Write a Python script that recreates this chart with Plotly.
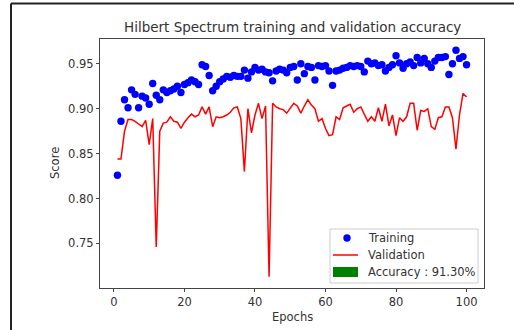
import plotly.graph_objects as go

epochs = list(range(1, 101))
train_acc = [0.826, 0.886, 0.910, 0.901, 0.921, 0.916, 0.901, 0.914, 0.912, 0.905,
             0.928, 0.915, 0.910, 0.921, 0.918, 0.920, 0.922, 0.925, 0.918, 0.927,
             0.929, 0.932, 0.930, 0.927, 0.949, 0.947, 0.937, 0.920, 0.925, 0.930,
             0.933, 0.936, 0.935, 0.937, 0.936, 0.936, 0.943, 0.934, 0.941, 0.946,
             0.943, 0.944, 0.941, 0.940, 0.931, 0.942, 0.944, 0.943, 0.940, 0.946,
             0.947, 0.932, 0.950, 0.939, 0.947, 0.946, 0.932, 0.948, 0.947, 0.948,
             0.942, 0.926, 0.942, 0.943, 0.945, 0.946, 0.948, 0.947, 0.948, 0.947,
             0.941, 0.953, 0.950, 0.951, 0.948, 0.949, 0.942, 0.946, 0.949, 0.959,
             0.951, 0.945, 0.950, 0.952, 0.948, 0.957, 0.951, 0.956, 0.950, 0.946,
             0.953, 0.957, 0.957, 0.958, 0.938, 0.950, 0.965, 0.956, 0.958, 0.949]
val_acc = [0.844, 0.844, 0.875, 0.888, 0.888, 0.886, 0.883, 0.880, 0.887, 0.860,
           0.889, 0.746, 0.875, 0.884, 0.885, 0.891, 0.886, 0.885, 0.878, 0.885,
           0.890, 0.894, 0.891, 0.893, 0.902, 0.894, 0.902, 0.880, 0.891, 0.890,
           0.891, 0.893, 0.896, 0.901, 0.902, 0.889, 0.830, 0.900, 0.873, 0.893,
           0.906, 0.889, 0.903, 0.713, 0.906, 0.902, 0.900, 0.899, 0.895, 0.901,
           0.906, 0.903, 0.895, 0.903, 0.910, 0.904, 0.900, 0.886, 0.889, 0.878,
           0.870, 0.871, 0.891, 0.888, 0.901, 0.903, 0.905, 0.896, 0.900, 0.902,
           0.893, 0.886, 0.891, 0.886, 0.901, 0.886, 0.905, 0.881, 0.893, 0.870,
           0.890, 0.886, 0.891, 0.906, 0.906, 0.876, 0.898, 0.897, 0.900, 0.880,
           0.877, 0.890, 0.891, 0.902, 0.902, 0.890, 0.855, 0.893, 0.917, 0.913]
x_ticks = [0, 20, 40, 60, 80, 100]
y_ticks = [0.75, 0.80, 0.85, 0.90, 0.95]
y_tick_text = ["0.75", "0.80", "0.85", "0.90", "0.95"]
title = "Hilbert Spectrum training and validation accuracy"
legend_labels = ["Training", "Validation", "Accuracy : 91.30%"]

FONT = "DejaVu Sans"
TXT = "#333333"
W, H = 514, 330
L, R, T, B = 100, 30, 39, 42
PW, PH = W - L - R, H - T - B


def px(x):
    return (x - L) / PW


def py(y):
    return (H - B - y) / PH


fig = go.Figure()
fig.add_trace(go.Scatter(x=epochs, y=val_acc, mode="lines",
                         line=dict(color="#ff0000", width=1.5), showlegend=False))
fig.add_trace(go.Scatter(x=epochs, y=train_acc, mode="markers",
                         marker=dict(color="#0000ff", size=7.4, line=dict(width=0)),
                         showlegend=False))

shapes = []
annotations = []
# figure border (left and top)
shapes.append(dict(type="line", xref="paper", yref="paper", x0=px(11), x1=px(514),
                   y0=py(3.5), y1=py(3.5), line=dict(color="#222222", width=2)))
shapes.append(dict(type="line", xref="paper", yref="paper", x0=px(11), x1=px(11),
                   y0=py(3.5), y1=py(330), line=dict(color="#222222", width=2)))
# legend box
shapes.append(dict(type="rect", xref="paper", yref="paper", x0=px(330), x1=px(478),
                   y0=py(229), y1=py(283), line=dict(color="#cccccc", width=1),
                   fillcolor="rgba(255,255,255,0.8)", layer="above"))
shapes.append(dict(type="circle", xref="paper", yref="paper", x0=px(343.3), x1=px(350.7),
                   y0=py(234.3), y1=py(241.7), line=dict(width=0), fillcolor="#0000ff",
                   layer="above"))
shapes.append(dict(type="line", xref="paper", yref="paper", x0=px(333), x1=px(358),
                   y0=py(255), y1=py(255), line=dict(color="#ff0000", width=1.5),
                   layer="above"))
shapes.append(dict(type="rect", xref="paper", yref="paper", x0=px(333), x1=px(358),
                   y0=py(267), y1=py(277), line=dict(width=0), fillcolor="#008000",
                   layer="above"))
for lab, yy in zip(legend_labels, [238, 255, 272]):
    annotations.append(dict(text=lab, xref="paper", yref="paper", x=px(366), y=py(yy),
                            xanchor="left", yanchor="middle", showarrow=False,
                            font=dict(family=FONT, size=11.5, color=TXT)))

annotations.append(dict(text=title, xref="paper", yref="paper", x=px(292), y=py(27),
                        xanchor="center", yanchor="middle", showarrow=False,
                        font=dict(family=FONT, size=13.5, color=TXT)))
annotations.append(dict(text="Epochs", xref="paper", yref="paper", x=px(292), y=py(317),
                        xanchor="center", yanchor="middle", showarrow=False,
                        font=dict(family=FONT, size=11.5, color=TXT)))
annotations.append(dict(text="Score", xref="paper", yref="paper", x=px(55), y=py(163),
                        xanchor="center", yanchor="middle", showarrow=False, textangle=-90,
                        font=dict(family=FONT, size=11.5, color=TXT)))

fig.update_layout(
    width=W, height=H,
    margin=dict(l=L, r=R, t=T, b=B),
    paper_bgcolor="white", plot_bgcolor="white",
    font=dict(family=FONT, size=11.5, color=TXT),
    shapes=shapes, annotations=annotations, showlegend=False,
)
fig.update_xaxes(range=[-3.95, 104.95], tickvals=x_ticks, showgrid=False, zeroline=False,
                 showline=True, mirror=True, linecolor="#444444", linewidth=1,
                 ticks="outside", ticklen=3, tickcolor="#444444",
                 tickfont=dict(family=FONT, size=11.5, color=TXT))
fig.update_yaxes(range=[0.7004, 0.9776], tickvals=y_ticks, ticktext=y_tick_text,
                 showgrid=False, zeroline=False,
                 showline=True, mirror=True, linecolor="#444444", linewidth=1,
                 ticks="outside", ticklen=3, tickcolor="#444444",
                 tickfont=dict(family=FONT, size=11.5, color=TXT))

fig.write_html("out.html")
